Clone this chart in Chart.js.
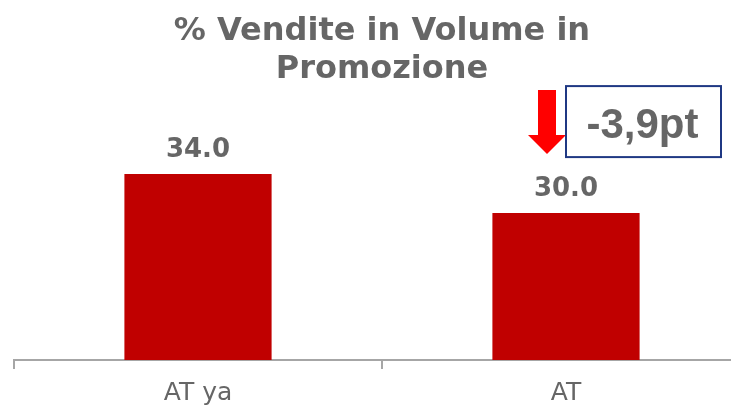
<!DOCTYPE html>
<html>
<head>
<meta charset="utf-8">
<script src="https://cdn.jsdelivr.net/npm/chart.js@4/dist/chart.umd.min.js"></script>
<style>
    html, body { margin: 0; padding: 0; background: #fff; overflow: hidden; }
    #wrap { position: absolute; left: 0; top: 0; width: 770px; height: 417px; }
</style>
</head>
<body>
<div id="wrap"><canvas id="promoChart" width="770" height="417"></canvas></div>
<script>
// ── data ────────────────────────────────────────────────────────────────
const CATEGORIES = ['AT ya', 'AT'];
const PROMO_SHARE = [34.0, 30.0];
const DELTA_LABEL = '-3,9pt';
const TITLE_LINES = ['% Vendite in Volume in', 'Promozione'];

const GREY_TEXT = '#666666';
const BAR_RED = '#C00000';

// value labels above each bar
const valueLabels = {
    id: 'valueLabels',
    afterDatasetsDraw(chart) {
        const ctx = chart.ctx;
        const meta = chart.getDatasetMeta(0);
        ctx.save();
        ctx.font = 'bold 26px "DejaVu Sans"';
        ctx.fillStyle = GREY_TEXT;
        ctx.textAlign = 'center';
        ctx.textBaseline = 'alphabetic';
        meta.data.forEach((bar, i) => {
            ctx.fillText(PROMO_SHARE[i].toFixed(1), bar.x, bar.y - 17);
        });
        ctx.restore();
    }
};

// red arrow + boxed delta next to the second bar
const deltaCallout = {
    id: 'deltaCallout',
    afterDraw(chart) {
        const ctx = chart.ctx;
        const bar = chart.getDatasetMeta(0).data[1];
        const ax = bar.x - 19;
        const tipY = bar.y - 59;

        ctx.save();
        ctx.fillStyle = '#FF0000';
        ctx.beginPath();
        ctx.moveTo(ax - 9, tipY - 64);
        ctx.lineTo(ax + 9, tipY - 64);
        ctx.lineTo(ax + 9, tipY - 19);
        ctx.lineTo(ax + 19, tipY - 19);
        ctx.lineTo(ax, tipY);
        ctx.lineTo(ax - 19, tipY - 19);
        ctx.lineTo(ax - 9, tipY - 19);
        ctx.closePath();
        ctx.fill();

        const bx = bar.x, by = bar.y - 127, bw = 155, bh = 71;
        ctx.strokeStyle = '#1F3883';
        ctx.lineWidth = 2;
        ctx.strokeRect(bx, by, bw, bh);

        ctx.font = 'bold 42px "Liberation Sans"';
        ctx.fillStyle = GREY_TEXT;
        ctx.textAlign = 'center';
        ctx.textBaseline = 'alphabetic';
        ctx.fillText(DELTA_LABEL, bx + bw / 2 - 1, by + 52);
        ctx.restore();
    }
};

new Chart(document.getElementById('promoChart'), {
    type: 'bar',
    data: {
        labels: CATEGORIES,
        datasets: [{
            data: PROMO_SHARE,
            backgroundColor: BAR_RED,
            borderWidth: 0,
            barPercentage: 0.4,
            categoryPercentage: 1.0
        }]
    },
    options: {
        responsive: false,
        animation: false,
        devicePixelRatio: 1,
        layout: { padding: { left: 14, right: 20, bottom: 0 } },
        plugins: {
            legend: { display: false },
            tooltip: { enabled: false },
            title: {
                display: true,
                text: TITLE_LINES,
                color: GREY_TEXT,
                font: { family: '"DejaVu Sans"', size: 32, weight: 'bold', lineHeight: 1.19 },
                padding: { top: 13, bottom: 26 }
            }
        },
        scales: {
            x: {
                grid: {
                    display: true,
                    drawOnChartArea: false,
                    drawTicks: true,
                    tickLength: 9,
                    color: '#A6A6A6',
                    lineWidth: 2,
                    offset: true
                },
                border: { display: true, color: '#A6A6A6', width: 2 },
                ticks: {
                    color: GREY_TEXT,
                    font: { family: '"DejaVu Sans"', size: 25 },
                    padding: 9
                }
            },
            y: {
                display: false,
                min: 15,
                max: 40
            }
        }
    },
    plugins: [valueLabels, deltaCallout]
});
</script>
</body>
</html>
